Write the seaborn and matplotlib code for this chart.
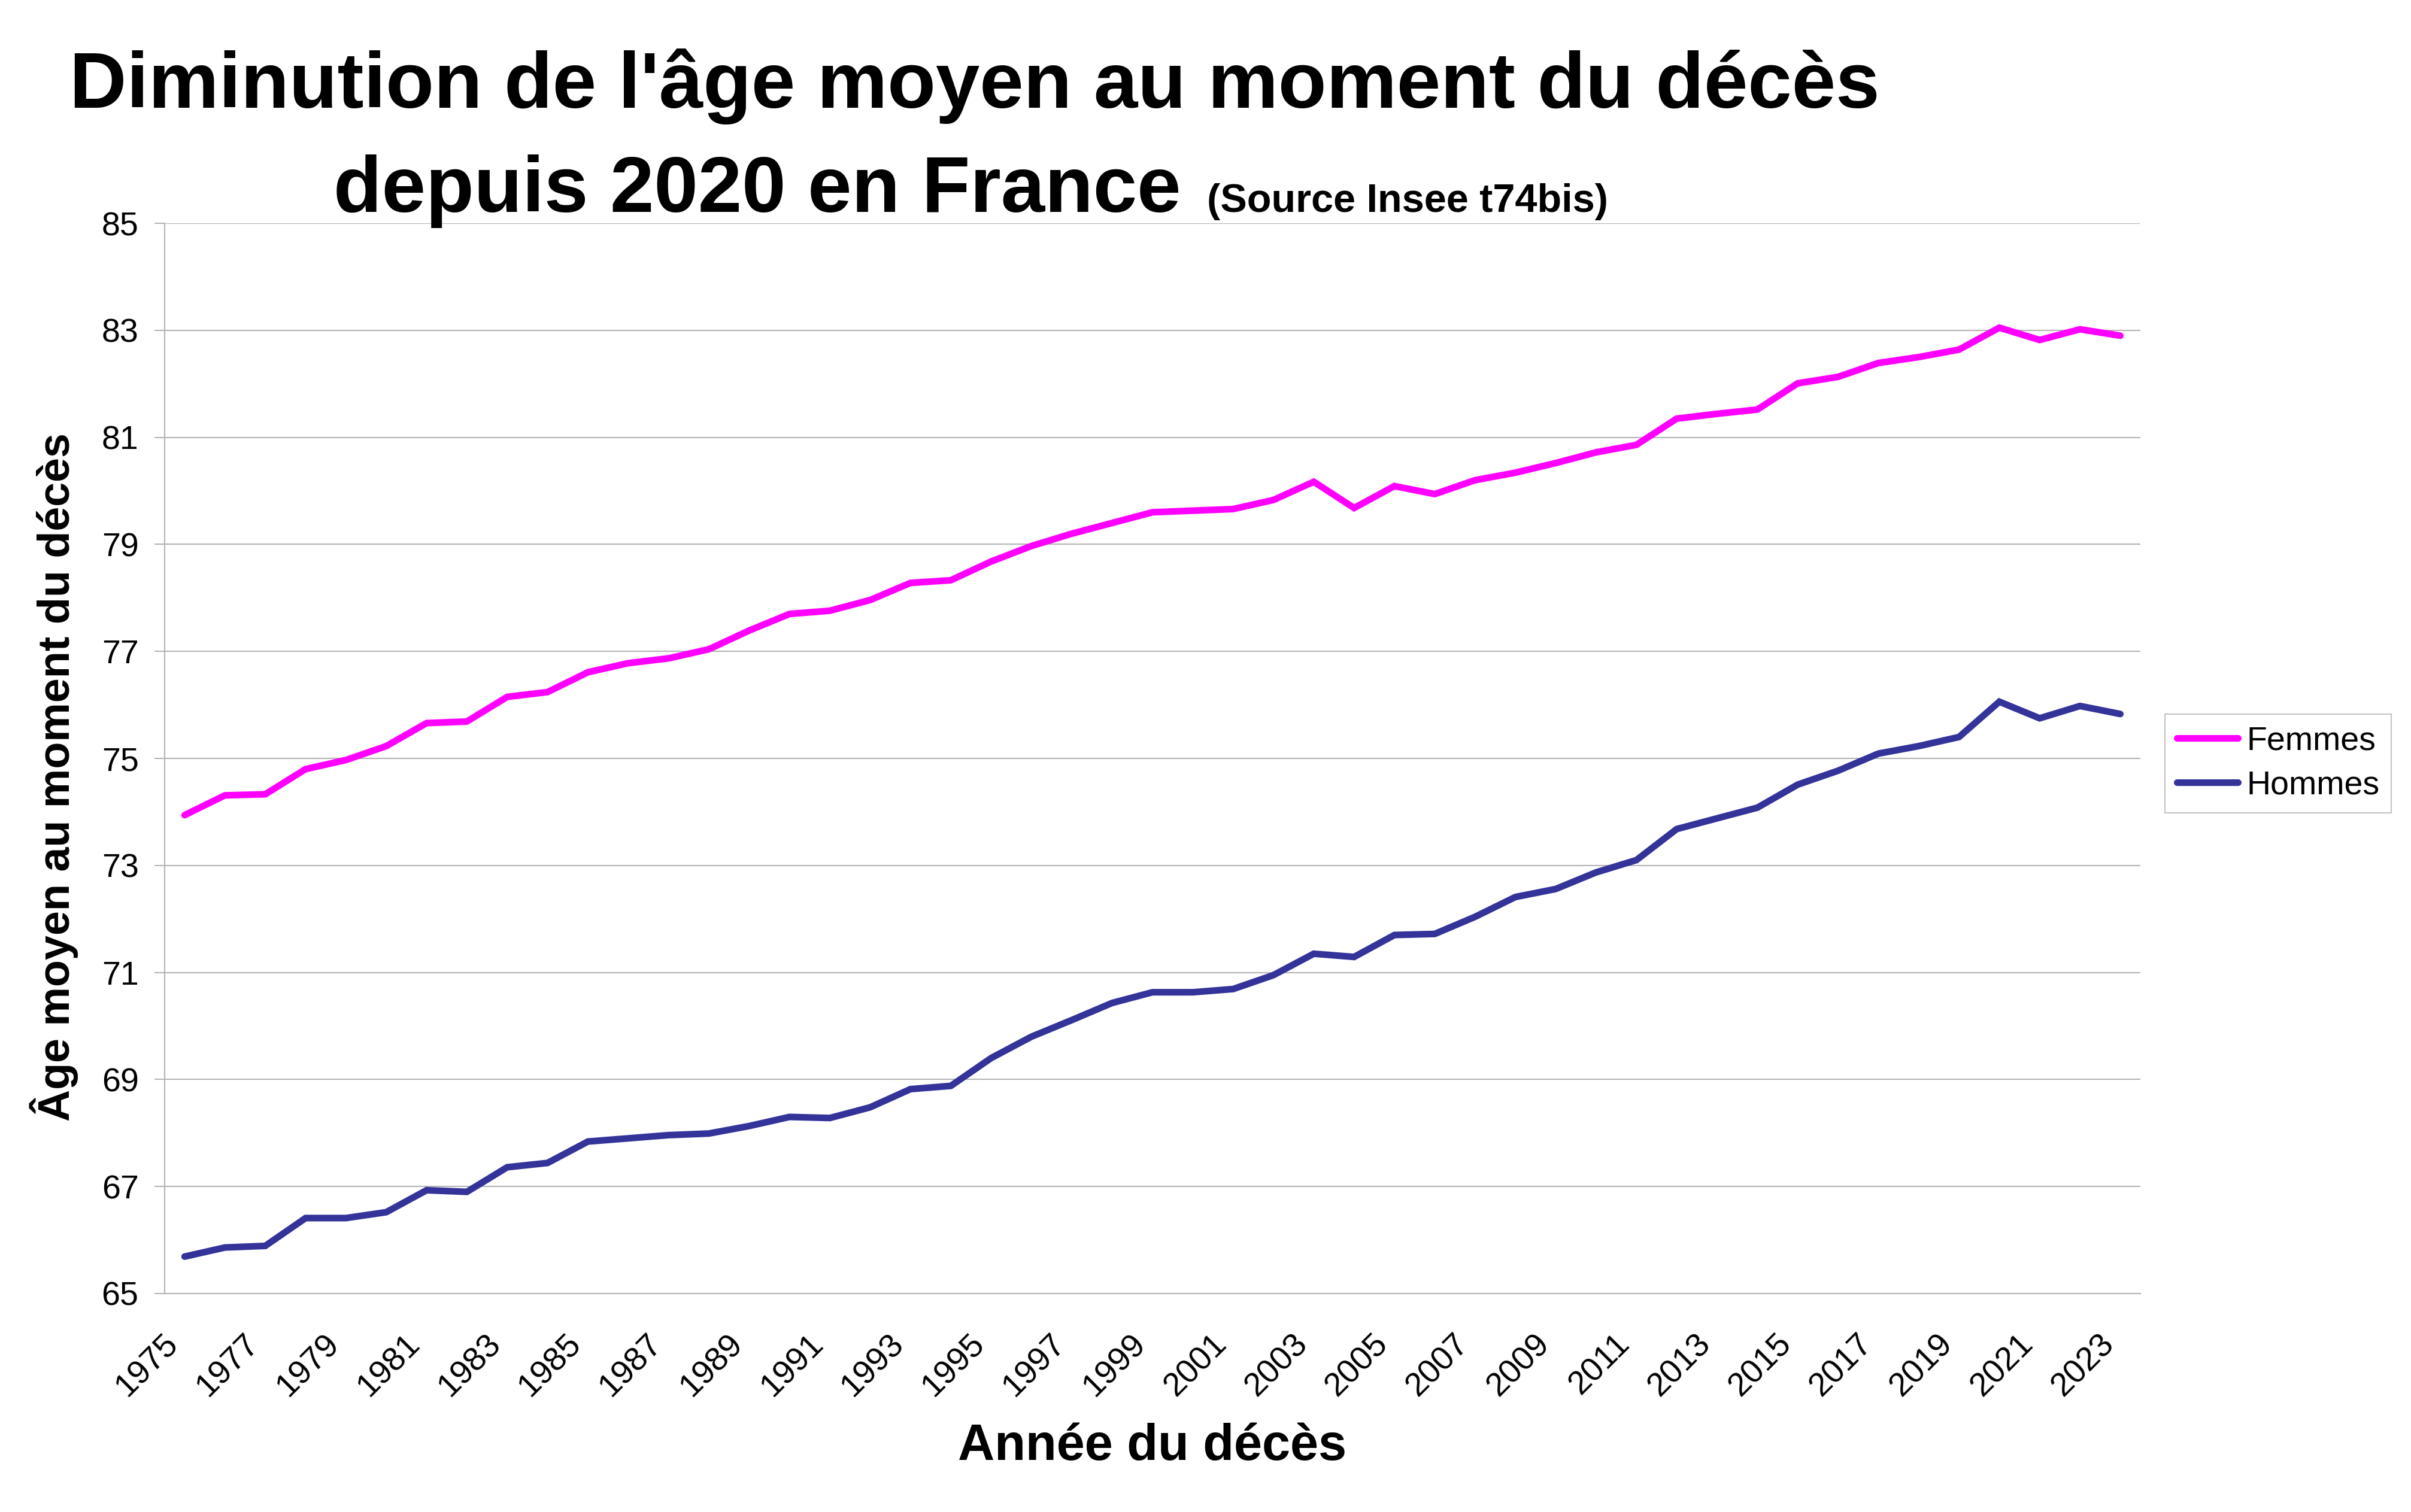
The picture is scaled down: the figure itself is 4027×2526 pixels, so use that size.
import numpy as np
import pandas as pd
import matplotlib
matplotlib.use('Agg')
import matplotlib.pyplot as plt
import matplotlib.transforms as mtransforms
import seaborn as sns

annees = list(range(1975, 2024))

femmes = [73.94, 74.31, 74.33, 74.80, 74.97, 75.23, 75.66, 75.69, 76.15, 76.24,
          76.61, 76.78, 76.87, 77.04, 77.39, 77.70, 77.76, 77.96, 78.28, 78.33,
          78.68, 78.97, 79.20, 79.40, 79.60, 79.63, 79.66, 79.83, 80.17, 79.68,
          80.09, 79.94, 80.20, 80.34, 80.52, 80.72, 80.86, 81.35, 81.44, 81.52,
          82.01, 82.13, 82.39, 82.50, 82.64, 83.05, 82.82, 83.02, 82.90]

hommes = [65.69, 65.86, 65.89, 66.41, 66.41, 66.52, 66.93, 66.90, 67.36, 67.44,
          67.84, 67.90, 67.96, 67.99, 68.13, 68.30, 68.28, 68.48, 68.82, 68.88,
          69.40, 69.80, 70.11, 70.43, 70.63, 70.63, 70.69, 70.95, 71.35, 71.29,
          71.70, 71.72, 72.04, 72.41, 72.56, 72.87, 73.10, 73.68, 73.88, 74.08,
          74.51, 74.77, 75.09, 75.23, 75.40, 76.06, 75.75, 75.98, 75.83]

series = ['Femmes', 'Hommes']
couleurs = {'Femmes': '#FF00FF', 'Hommes': '#333399'}

pos = np.arange(len(annees))
df = pd.DataFrame({
    'pos': np.concatenate([pos, pos]),
    'age': femmes + hommes,
    'sexe': ['Femmes'] * len(annees) + ['Hommes'] * len(annees),
})

sns.set_style('white')
plt.rcParams['font.family'] = ['Liberation Sans', 'DejaVu Sans']
plt.rcParams['text.color'] = 'black'
plt.rcParams['xtick.color'] = 'black'
plt.rcParams['ytick.color'] = 'black'

fig = plt.figure(figsize=(40.27, 25.26), dpi=100)
ax = fig.add_axes([0.0682, 0.1445, 0.8196, 0.7078])

sns.lineplot(data=df, x='pos', y='age', hue='sexe', hue_order=series,
             palette=couleurs, linewidth=8, ax=ax, legend=False,
             solid_capstyle='round', solid_joinstyle='miter')

gris = '#b4b4b4'
ax.set_xlim(-0.5, len(annees) - 0.5)
ax.set_ylim(65, 85)
ax.set_yticks(np.arange(65, 86, 2))
ax.grid(axis='y', color=gris, linewidth=1.5)
ax.set_axisbelow(True)

# ticks des catégories
ax.set_xticks(pos[::2])
ax.set_xticklabels([str(a) for a in annees[::2]], rotation=45, ha='right',
                   va='top', rotation_mode='anchor', fontsize=40)
ax.set_xticks(np.arange(-0.5, len(annees), 1), minor=True)
ax.tick_params(axis='x', which='major', length=0, pad=42)
ax.tick_params(axis='x', which='minor', length=12, width=1.5, color=gris, direction='out')
ax.tick_params(axis='y', length=12, width=1.5, color=gris, labelcolor='black',
               labelsize=40, pad=19, left=True)

# décalage des étiquettes vers la gauche (après tick_params)
decal = mtransforms.ScaledTranslation(-0.37, 0, fig.dpi_scale_trans)
for lab in ax.get_xticklabels():
    lab.set_transform(lab.get_transform() + decal)

for s in ['top', 'right']:
    ax.spines[s].set_visible(False)
for s in ['left', 'bottom']:
    ax.spines[s].set_color(gris)
    ax.spines[s].set_linewidth(1.5)

ax.set_xlabel('')
ax.set_ylabel('')

fig.text(0.478, 0.043, 'Année du décès', fontsize=61, fontweight='bold',
         ha='center', va='center')
fig.text(0.0225, 0.486, 'Âge moyen au moment du décès', fontsize=53,
         fontweight='bold', rotation=90, ha='center', va='center')

fig.text(0.0287, 0.9287, "Diminution de l'âge moyen au moment du décès",
         fontsize=95, fontweight='bold', ha='left', va='baseline')
fig.text(0.1384, 0.860, 'depuis 2020 en France', fontsize=95,
         fontweight='bold', ha='left', va='baseline')
fig.text(0.5006, 0.860, '(Source Insee t74bis)', fontsize=48,
         fontweight='bold', ha='left', va='baseline')

handles = [plt.Line2D([], [], color=couleurs[s], linewidth=8, solid_capstyle='round')
           for s in series]
leg = fig.legend(handles, series, loc='center left', bbox_to_anchor=(0.898, 0.4952),
                 fontsize=40, frameon=True, fancybox=False, handlelength=1.85,
                 borderpad=0.35, labelspacing=0.4, handletextpad=0.25,
                 borderaxespad=0)
leg.get_frame().set_edgecolor(gris)
leg.get_frame().set_linewidth(1.5)

fig.savefig('out.png', dpi=100)
